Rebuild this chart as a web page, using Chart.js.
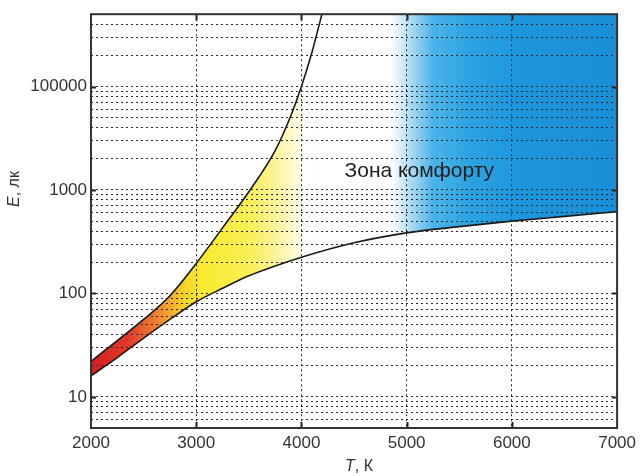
<!DOCTYPE html>
<html>
<head>
<meta charset="utf-8">
<script src="https://cdn.jsdelivr.net/npm/chart.js@4.4.0/dist/chart.umd.min.js"></script>
<style>
  html, body { margin: 0; padding: 0; background: #fff; }
  #wrap { width: 641px; height: 476px; }
</style>
</head>
<body>
<div id="wrap"><canvas id="chart"></canvas></div>
<script>
// Kruithof curve: comfort zone between the two boundaries

// lower boundary of the comfort zone
const lowerT = [2000, 2250, 2500, 2750, 3000, 3250, 3500, 3750, 4000, 4500, 5000, 5500, 6000, 6500, 7000];
const lowerE = [16, 24, 37, 56, 83, 112, 148, 184, 224, 309, 385, 442, 500, 556, 617];

// upper boundary (leaves the plot near 4200 K)
const upperT = [2000, 2250, 2500, 2750, 3000, 3250, 3500, 3750, 3900, 4000, 4100, 4200];
const upperE = [22, 35, 56, 95, 195, 430, 960, 2400, 5250, 10000, 21400, 52500];

// top edge of the filled area once the upper curve is off the chart
const topT = [4185, 7000];
const topE = [100000, 100000];

const xTicks = [2000, 3000, 4000, 5000, 6000, 7000];
const yTickValues = [10, 100, 1000, 10000];
const yTickLabels = ['10', '100', '1000', '100000'];

const zoneLabel = 'Зона комфорту';
const xTitle = ['T', ', К'];
const yTitle = ['E', ', лк'];

// colour ramp along T (style only)
const rampT = [2000, 2350, 2650, 2900, 3050, 3500, 3800, 4050, 4850, 5000, 5250, 5600, 6100, 7000];
const rampC = ['#d31f1f', '#e0392a', '#ef8a30', '#f6d62a', '#f8ea2e', '#f9ee55', '#fcf5a8', '#ffffff',
               '#ffffff', '#bfe2f4', '#4ab3e8', '#2ba3e2', '#1d95dc', '#1a8fd8'];

const FONT = '"Liberation Sans", Arial, sans-serif';

function pts(xs, ys) {
    return xs.map(function(x, i) { return {x: x, y: ys[i]}; });
}

function zoneFill(context) {
    const chart = context.chart;
    const xs = chart.scales.x;
    if (!chart.chartArea || !xs) {
        return 'rgba(0,0,0,0)';
    }
    const x0 = xs.getPixelForValue(rampT[0]);
    const x1 = xs.getPixelForValue(rampT[rampT.length - 1]);
    const g = chart.ctx.createLinearGradient(x0, 0, x1, 0);
    rampT.forEach(function(t, i) {
        g.addColorStop((t - rampT[0]) / (rampT[rampT.length - 1] - rampT[0]), rampC[i]);
    });
    return g;
}

const decorPlugin = {
    id: 'decor',
    afterDraw: function(chart) {
        const ctx = chart.ctx;
        const a = chart.chartArea;
        const sx = chart.scales.x;
        const sy = chart.scales.y;
        ctx.save();

        // small tick marks on the frame
        ctx.strokeStyle = '#222';
        ctx.lineWidth = 2;
        ctx.beginPath();
        xTicks.slice(1, -1).forEach(function(t) {
            const px = Math.round(sx.getPixelForValue(t)) + 0.5;
            ctx.moveTo(px, a.top); ctx.lineTo(px, a.top + 6);
            ctx.moveTo(px, a.bottom); ctx.lineTo(px, a.bottom - 6);
        });
        yTickValues.forEach(function(v) {
            const py = Math.round(sy.getPixelForValue(v)) + 0.5;
            ctx.moveTo(a.left, py); ctx.lineTo(a.left + 5, py);
            ctx.moveTo(a.right, py); ctx.lineTo(a.right - 5, py);
        });
        ctx.stroke();

        // frame
        ctx.strokeStyle = '#333';
        ctx.lineWidth = 2;
        ctx.strokeRect(a.left, a.top, a.right - a.left, a.bottom - a.top);

        // zone label
        ctx.fillStyle = '#1e1e1e';
        ctx.font = '21px ' + FONT;
        ctx.textAlign = 'left';
        ctx.textBaseline = 'alphabetic';
        ctx.fillText(zoneLabel, sx.getPixelForValue(4410), sy.getPixelForValue(1330));

        // axis titles (italic symbol + unit)
        ctx.fillStyle = '#333';
        const drawTitle = function(parts, cx, cy, rot) {
            ctx.save();
            ctx.translate(cx, cy);
            ctx.rotate(rot);
            ctx.font = 'italic 16px ' + FONT;
            const w0 = ctx.measureText(parts[0]).width;
            ctx.font = '16px ' + FONT;
            const w1 = ctx.measureText(parts[1]).width;
            const x = -(w0 + w1) / 2;
            ctx.textBaseline = 'middle';
            ctx.font = 'italic 16px ' + FONT;
            ctx.fillText(parts[0], x, 0);
            ctx.font = '16px ' + FONT;
            ctx.fillText(parts[1], x + w0, 0);
            ctx.restore();
        };
        drawTitle(xTitle, 359, 467, 0);
        drawTitle(yTitle, 15, 189, -Math.PI / 2);

        ctx.restore();
    }
};

const gridDash = [2, 3];
const gridOpts = {
    color: '#2a2a2a',
    lineWidth: 1,
    drawTicks: false,
    z: 1
};

new Chart(document.getElementById('chart'), {
    type: 'line',
    data: {
        datasets: [
            {
                label: 'lower',
                data: pts(lowerT, lowerE),
                borderColor: '#1a1a1a',
                borderWidth: 1.6,
                pointRadius: 0,
                cubicInterpolationMode: 'monotone',
                fill: false
            },
            {
                label: 'upper',
                data: pts(upperT, upperE),
                borderColor: '#1a1a1a',
                borderWidth: 1.6,
                pointRadius: 0,
                cubicInterpolationMode: 'monotone',
                backgroundColor: zoneFill,
                fill: 0
            },
            {
                label: 'top',
                data: pts(topT, topE),
                borderWidth: 0,
                borderColor: 'rgba(0,0,0,0)',
                pointRadius: 0,
                backgroundColor: zoneFill,
                fill: 0
            }
        ]
    },
    options: {
        responsive: true,
        maintainAspectRatio: false,
        animation: false,
        layout: { padding: { top: 11, right: 20, left: 0, bottom: 0 } },
        plugins: {
            legend: { display: false },
            tooltip: { enabled: false }
        },
        scales: {
            x: {
                type: 'linear',
                min: 2000,
                max: 7000,
                afterBuildTicks: function(scale) {
                    scale.ticks = xTicks.map(function(v) { return {value: v}; });
                },
                afterFit: function(scale) { scale.height = 48; },
                ticks: {
                    autoSkip: false,
                    maxRotation: 0,
                    padding: 5,
                    color: '#333',
                    font: { family: FONT, size: 17 },
                    callback: function(v) { return String(v); }
                },
                grid: gridOpts,
                border: { display: false, dash: gridDash }
            },
            y: {
                type: 'logarithmic',
                min: 5,
                max: 50000,
                afterBuildTicks: function(scale) {
                    const t = [];
                    for (let d = 1; d <= 10000; d *= 10) {
                        for (let m = 1; m <= 9; m++) {
                            const v = m * d;
                            if (v >= 5 && v <= 50000) t.push({value: v});
                        }
                    }
                    scale.ticks = t;
                },
                afterFit: function(scale) { scale.width = 91; },
                ticks: {
                    autoSkip: false,
                    padding: 4,
                    color: '#333',
                    font: { family: FONT, size: 17 },
                    callback: function(v) {
                        const i = yTickValues.indexOf(v);
                        return i >= 0 ? yTickLabels[i] : '';
                    }
                },
                grid: gridOpts,
                border: { display: false, dash: gridDash }
            }
        }
    },
    plugins: [decorPlugin]
});
</script>
</body>
</html>
